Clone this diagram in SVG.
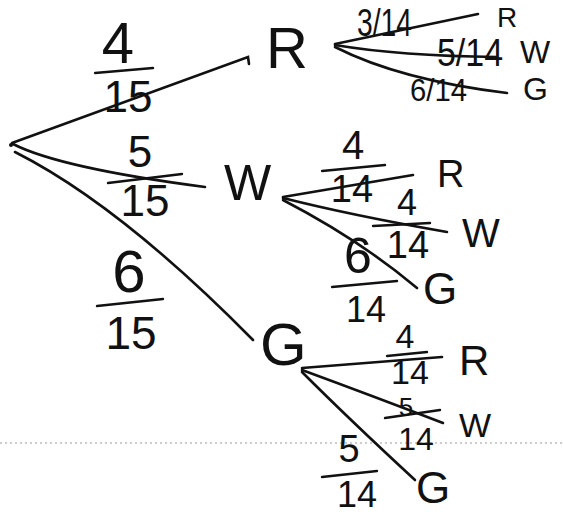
<svg xmlns="http://www.w3.org/2000/svg" width="563" height="514" viewBox="0 0 563 514">
<style>
.t{font-family:"Liberation Sans",Arial,sans-serif;fill:#111}
.m{text-anchor:middle}
.c{fill:none;stroke:#111;stroke-width:2.6;stroke-linecap:round}
.b{fill:none;stroke:#111;stroke-width:2.4;stroke-linecap:round}
.dot{fill:none;stroke:#999;stroke-width:1;stroke-dasharray:2 3}
</style>
<rect width="563" height="514" fill="#fff"/>
<line class="dot" x1="0" y1="443" x2="563" y2="443"/>
<g id="connectors">
<path class="c" d="M12,143 L248,57 L249,64"/>
<path class="c" d="M13,144 Q60,168 205,187"/>
<path class="c" d="M15,152 Q120,205 253,340"/>
<path class="c" d="M335,44 L478,14"/>
<path class="c" d="M335,45 Q400,56 497,57"/>
<path class="c" d="M335,47 Q400,80 507,93"/>
<path class="c" d="M283,197 L413,175"/>
<path class="c" d="M283,198 Q350,215 447,232"/>
<path class="c" d="M283,200 Q360,240 417,288"/>
<path class="c" d="M302,368 L442,357"/>
<path class="c" d="M302,370 Q370,395 443,423"/>
<path class="c" d="M302,372 Q350,420 415,480"/>
</g>
<g id="root"><circle cx="11" cy="145" r="2" fill="#111"/></g>
<g id="R1"><text class="t" x="266" y="68" font-size="58">R</text></g>
<g id="W1"><text class="t" x="224" y="200" font-size="50">W</text></g>
<g id="G1"><text class="t" x="260" y="365" font-size="60">G</text></g>
<g id="R1R"><text class="t" x="497" y="27" font-size="28">R</text></g>
<g id="R1W"><text class="t" x="520" y="63" font-size="32">W</text></g>
<g id="R1G"><text class="t" x="523" y="100" font-size="32">G</text></g>
<g id="W1R"><text class="t" x="437" y="187" font-size="38">R</text></g>
<g id="W1W"><text class="t" x="462" y="247" font-size="40">W</text></g>
<g id="W1G"><text class="t" x="423" y="304" font-size="44">G</text></g>
<g id="G1R"><text class="t" x="459" y="375" font-size="42">R</text></g>
<g id="G1W"><text class="t" x="459" y="437" font-size="34">W</text></g>
<g id="G1G"><text class="t" x="416" y="503" font-size="44">G</text></g>
<g id="labels">
<text class="t m" x="118" y="63" font-size="58">4</text>
<path class="b" d="M95,73 L153,68"/>
<text class="t m" x="128" y="112" font-size="44">15</text>
<text class="t m" x="140" y="167" font-size="44">5</text>
<path class="b" d="M108,183 L182,174"/>
<text class="t m" x="145" y="216" font-size="44">15</text>
<text class="t m" x="129" y="292" font-size="60">6</text>
<path class="b" d="M97,306 L163,299"/>
<text class="t m" x="131" y="349" font-size="46">15</text>
<text class="t" x="357" y="36" font-size="38" textLength="55" lengthAdjust="spacingAndGlyphs">3/14</text>
<text class="t" x="437" y="66" font-size="38" textLength="66" lengthAdjust="spacingAndGlyphs">5/14</text>
<text class="t" x="410" y="101" font-size="32" textLength="57" lengthAdjust="spacingAndGlyphs">6/14</text>
<text class="t m" x="353" y="159" font-size="40">4</text>
<path class="b" d="M322,171 L385,165"/>
<text class="t m" x="352" y="202" font-size="38">14</text>
<text class="t m" x="407" y="215" font-size="36">4</text>
<path class="b" d="M373,226 L430,223"/>
<text class="t m" x="408" y="258" font-size="38">14</text>
<text class="t m" x="358" y="273" font-size="50">6</text>
<path class="b" d="M332,287 L397,281"/>
<text class="t m" x="366" y="322" font-size="36">14</text>
<text class="t m" x="405" y="348" font-size="34">4</text>
<path class="b" d="M387,356 L427,352"/>
<text class="t m" x="410" y="384" font-size="34">14</text>
<text class="t m" x="406" y="416" font-size="26">5</text>
<path class="b" d="M385,418 L440,410"/>
<text class="t m" x="416" y="450" font-size="32">14</text>
<text class="t m" x="349" y="462" font-size="38">5</text>
<path class="b" d="M322,477 L377,471"/>
<text class="t m" x="357" y="507" font-size="36">14</text>
</g>
</svg>
